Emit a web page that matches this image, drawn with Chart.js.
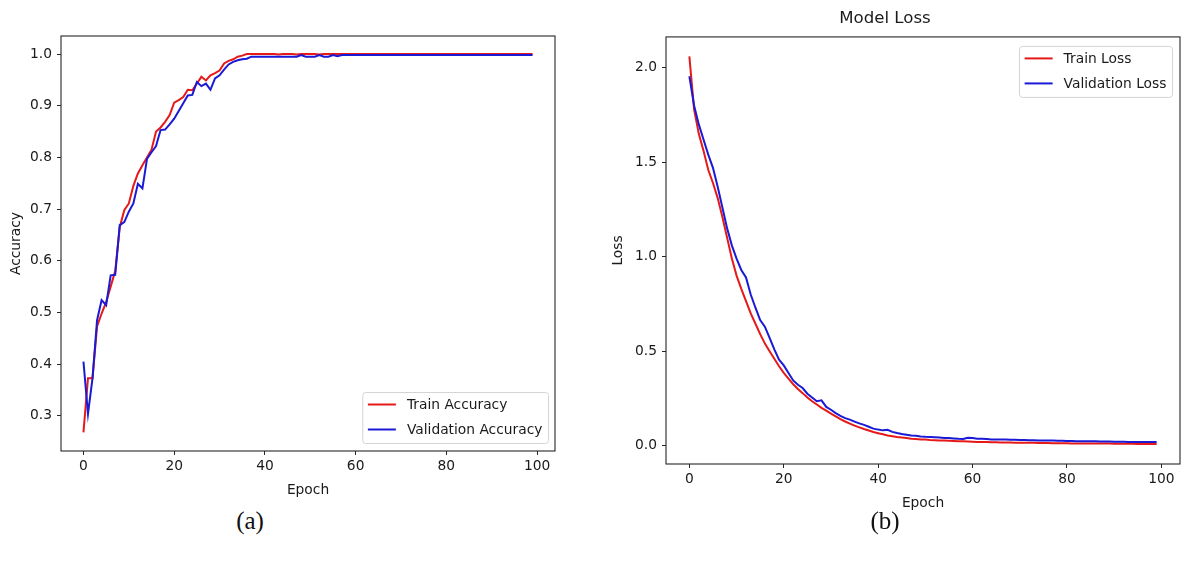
<!DOCTYPE html>
<html>
<head>
<meta charset="utf-8">
<script src="https://cdn.jsdelivr.net/npm/chart.js@4.4.1/dist/chart.umd.min.js"></script>
<style>
  body { margin: 0; background: #fff; width: 1182px; height: 568px; position: relative; overflow: hidden; }
  canvas { position: absolute; }
  .cap { position: absolute; font-family: "Liberation Serif", serif; font-size: 25px; color: #111; transform: translate(-50%, -50%); }
</style>
</head>
<body>
<canvas id="chartjs-0" width="580" height="499" style="left:0;top:0"></canvas>
<canvas id="chartjs-1" width="592" height="512" style="left:590px;top:0"></canvas>
<div class="cap" style="left:250px;top:521px">(a)</div>
<div class="cap" style="left:885px;top:521px">(b)</div>
<script>
// data, one value per epoch (0..99)
var trainAcc = [
  0.268, 0.373, 0.373, 0.473, 0.498, 0.520, 0.550, 0.580, 0.665, 0.698,
  0.711, 0.745, 0.769, 0.785, 0.800, 0.815, 0.850, 0.858, 0.869, 0.882,
  0.906, 0.911, 0.917, 0.931, 0.930, 0.943, 0.956, 0.949, 0.959, 0.963,
  0.968, 0.982, 0.987, 0.990, 0.995, 0.997, 1.000, 1.000, 1.000, 1.000,
  1.000, 1.000, 1.000, 0.999, 1.000, 1.000, 1.000, 0.999, 1.000, 1.000,
  1.000, 1.000, 0.999, 1.000, 1.000, 1.000, 1.000, 1.000, 1.000, 1.000,
  1.000, 1.000, 1.000, 1.000, 1.000, 1.000, 1.000, 1.000, 1.000, 1.000,
  1.000, 1.000, 1.000, 1.000, 1.000, 1.000, 1.000, 1.000, 1.000, 1.000,
  1.000, 1.000, 1.000, 1.000, 1.000, 1.000, 1.000, 1.000, 1.000, 1.000,
  1.000, 1.000, 1.000, 1.000, 1.000, 1.000, 1.000, 1.000, 1.000, 1.000
];
var valAcc = [
  0.405, 0.304, 0.373, 0.485, 0.524, 0.514, 0.572, 0.573, 0.669, 0.675,
  0.695, 0.711, 0.749, 0.740, 0.797, 0.810, 0.822, 0.853, 0.854, 0.864,
  0.875, 0.890, 0.905, 0.920, 0.921, 0.946, 0.938, 0.943, 0.931, 0.953,
  0.959, 0.970, 0.980, 0.985, 0.988, 0.990, 0.991, 0.995, 0.995, 0.995,
  0.995, 0.995, 0.995, 0.995, 0.995, 0.995, 0.995, 0.995, 0.998, 0.995,
  0.995, 0.995, 0.998, 0.995, 0.995, 0.998, 0.996, 0.998, 0.998, 0.998,
  0.998, 0.998, 0.998, 0.998, 0.998, 0.998, 0.998, 0.998, 0.998, 0.998,
  0.998, 0.998, 0.998, 0.998, 0.998, 0.998, 0.998, 0.998, 0.998, 0.998,
  0.998, 0.998, 0.998, 0.998, 0.998, 0.998, 0.998, 0.998, 0.998, 0.998,
  0.998, 0.998, 0.998, 0.998, 0.998, 0.998, 0.998, 0.998, 0.998, 0.998
];
var trainLoss = [
  2.060, 1.780, 1.650, 1.560, 1.460, 1.390, 1.310, 1.210, 1.100, 0.990,
  0.900, 0.830, 0.765, 0.700, 0.645, 0.590, 0.540, 0.500, 0.460, 0.420,
  0.385, 0.355, 0.325, 0.300, 0.278, 0.255, 0.235, 0.218, 0.200, 0.185,
  0.170, 0.155, 0.140, 0.128, 0.117, 0.106, 0.097, 0.088, 0.080, 0.072,
  0.066, 0.060, 0.054, 0.050, 0.046, 0.043, 0.040, 0.037, 0.035, 0.033,
  0.032, 0.030, 0.029, 0.028, 0.027, 0.026, 0.025, 0.024, 0.023, 0.022,
  0.021, 0.020, 0.019, 0.019, 0.018, 0.018, 0.017, 0.017, 0.017, 0.016,
  0.016, 0.015, 0.015, 0.015, 0.014, 0.014, 0.014, 0.013, 0.013, 0.013,
  0.013, 0.012, 0.012, 0.012, 0.012, 0.011, 0.011, 0.011, 0.011, 0.011,
  0.010, 0.010, 0.010, 0.010, 0.010, 0.009, 0.009, 0.009, 0.009, 0.009
];
var valLoss = [
  1.955, 1.800, 1.700, 1.620, 1.540, 1.470, 1.370, 1.260, 1.150, 1.060,
  0.990, 0.930, 0.890, 0.800, 0.730, 0.665, 0.630, 0.570, 0.510, 0.455,
  0.425, 0.385, 0.345, 0.322, 0.305, 0.275, 0.255, 0.235, 0.240, 0.205,
  0.190, 0.172, 0.158, 0.146, 0.138, 0.127, 0.118, 0.110, 0.100, 0.090,
  0.085, 0.081, 0.084, 0.073, 0.067, 0.062, 0.058, 0.054, 0.052, 0.049,
  0.047, 0.046, 0.045, 0.043, 0.041, 0.040, 0.038, 0.036, 0.035, 0.042,
  0.040, 0.037, 0.036, 0.035, 0.033, 0.033, 0.032, 0.032, 0.031, 0.031,
  0.030, 0.030, 0.029, 0.029, 0.028, 0.028, 0.027, 0.027, 0.026, 0.026,
  0.025, 0.025, 0.024, 0.024, 0.023, 0.023, 0.023, 0.022, 0.022, 0.022,
  0.021, 0.021, 0.021, 0.020, 0.020, 0.020, 0.020, 0.019, 0.019, 0.019
];
var epochTicks = [0, 20, 40, 60, 80, 100];
var accTicks = [0.3, 0.4, 0.5, 0.6, 0.7, 0.8, 0.9, 1.0];
var lossTicks = [0.0, 0.5, 1.0, 1.5, 2.0];

var RED = "#e61919";
var BLUE = "#1a1ad6";
var INK = "#1a1a1a";
var FONT = { family: "DejaVu Sans", size: 13.8 };

Chart.defaults.font.family = "DejaVu Sans";
Chart.defaults.color = INK;

function pts(arr) {
  return arr.map(function (v, i) { return { x: i, y: v }; });
}

// black box round the plot area, like the matplotlib spines
var frame = {
  id: "frame",
  afterDatasetsDraw: function (chart) {
    var a = chart.chartArea, ctx = chart.ctx;
    ctx.save();
    ctx.strokeStyle = "#262626";
    ctx.lineWidth = 1.1;
    ctx.strokeRect(a.left, a.top, a.right - a.left, a.bottom - a.top);
    ctx.restore();
  }
};

// legend drawn inside the axes
var mplLegend = {
  id: "mplLegend",
  afterDraw: function (chart, args, opts) {
    var a = chart.chartArea, ctx = chart.ctx;
    var sets = chart.data.datasets;
    ctx.save();
    ctx.font = "13.8px 'DejaVu Sans'";
    var textW = Math.max.apply(null, sets.map(function (d) { return ctx.measureText(d.label).width; }));
    var pad = 5.6, handle = 28, gap = 11, rowH = 25;
    var w = pad + handle + gap + textW + pad;
    var h = rowH * sets.length + 1;
    var x = a.right - opts.inset - w;
    var y = opts.corner === "upper" ? a.top + opts.inset + 1 : a.bottom - opts.inset - 1 - h;
    ctx.fillStyle = "rgba(255,255,255,0.85)";
    ctx.strokeStyle = "#d4d4d4";
    ctx.lineWidth = 1;
    ctx.beginPath();
    ctx.roundRect(x + 0.5, y + 0.5, w, h, 3);
    ctx.fill();
    ctx.stroke();
    sets.forEach(function (d, i) {
      var cy = y + 12.5 + i * rowH;
      ctx.strokeStyle = d.borderColor;
      ctx.lineWidth = 2;
      ctx.beginPath();
      ctx.moveTo(x + pad, cy);
      ctx.lineTo(x + pad + handle, cy);
      ctx.stroke();
      ctx.fillStyle = INK;
      ctx.textBaseline = "middle";
      ctx.fillText(d.label, x + pad + handle + gap, cy + 1);
    });
    ctx.restore();
  }
};

function makeChart(id, cfg) {
  return new Chart(document.getElementById(id), {
    type: "line",
    data: {
      datasets: [
        { label: cfg.labels[0], data: pts(cfg.train), borderColor: RED, borderWidth: 2, pointRadius: 0, tension: 0, order: 1 },
        { label: cfg.labels[1], data: pts(cfg.val), borderColor: BLUE, borderWidth: 2, pointRadius: 0, tension: 0, order: 0 }
      ]
    },
    options: {
      responsive: false,
      animation: false,
      devicePixelRatio: 1,
      layout: { padding: cfg.padding },
      plugins: {
        legend: { display: false },
        tooltip: { enabled: false },
        title: cfg.title ? {
          display: true, text: cfg.title, color: INK,
          font: { family: "DejaVu Sans", size: 16.6, weight: "normal" },
          padding: { top: 9, bottom: 8 }
        } : { display: false },
        mplLegend: cfg.legend
      },
      scales: {
        x: {
          type: "linear", min: -4.95, max: 103.95,
          afterBuildTicks: function (s) { s.ticks = epochTicks.map(function (v) { return { value: v }; }); },
          afterFit: function (s) { s.height = 48; },
          ticks: { font: FONT, color: INK, padding: 3, maxRotation: 0, callback: function (v) { return String(v); } },
          grid: { drawOnChartArea: false, drawTicks: true, tickLength: 4, color: "#262626" },
          border: { display: false },
          title: { display: true, text: "Epoch", font: FONT, color: INK, padding: 0 }
        },
        y: {
          type: "linear", min: cfg.ymin, max: cfg.ymax,
          afterBuildTicks: function (s) { s.ticks = cfg.yticks.map(function (v) { return { value: v }; }); },
          afterFit: function (s) { s.width = cfg.yWidth; },
          ticks: { font: FONT, color: INK, padding: 5, callback: function (v) { return Number(v).toFixed(1); } },
          grid: { drawOnChartArea: false, drawTicks: true, tickLength: 4, color: "#262626" },
          border: { display: false },
          title: { display: true, text: cfg.ytitle, font: FONT, color: INK, padding: { top: cfg.ytitlePad, bottom: 0 } }
        }
      }
    },
    plugins: [frame, mplLegend]
  });
}

makeChart("chartjs-0", {
  labels: ["Train Accuracy", "Validation Accuracy"],
  train: trainAcc, val: valAcc,
  ymin: 0.232, ymax: 1.035, yticks: accTicks,
  ytitle: "Accuracy", ytitlePad: 7.7, yWidth: 61,
  padding: { top: 36, right: 25, left: 0, bottom: 0 },
  legend: { corner: "lower", inset: 7 }
});

makeChart("chartjs-1", {
  labels: ["Train Loss", "Validation Loss"],
  train: trainLoss, val: valLoss,
  ymin: -0.097, ymax: 2.163, yticks: lossTicks,
  ytitle: "Loss", ytitlePad: 19.7, yWidth: 76,
  title: "Model Loss",
  padding: { top: 0, right: 2, left: 0, bottom: 0 },
  legend: { corner: "upper", inset: 8 }
});
</script>
</body>
</html>
